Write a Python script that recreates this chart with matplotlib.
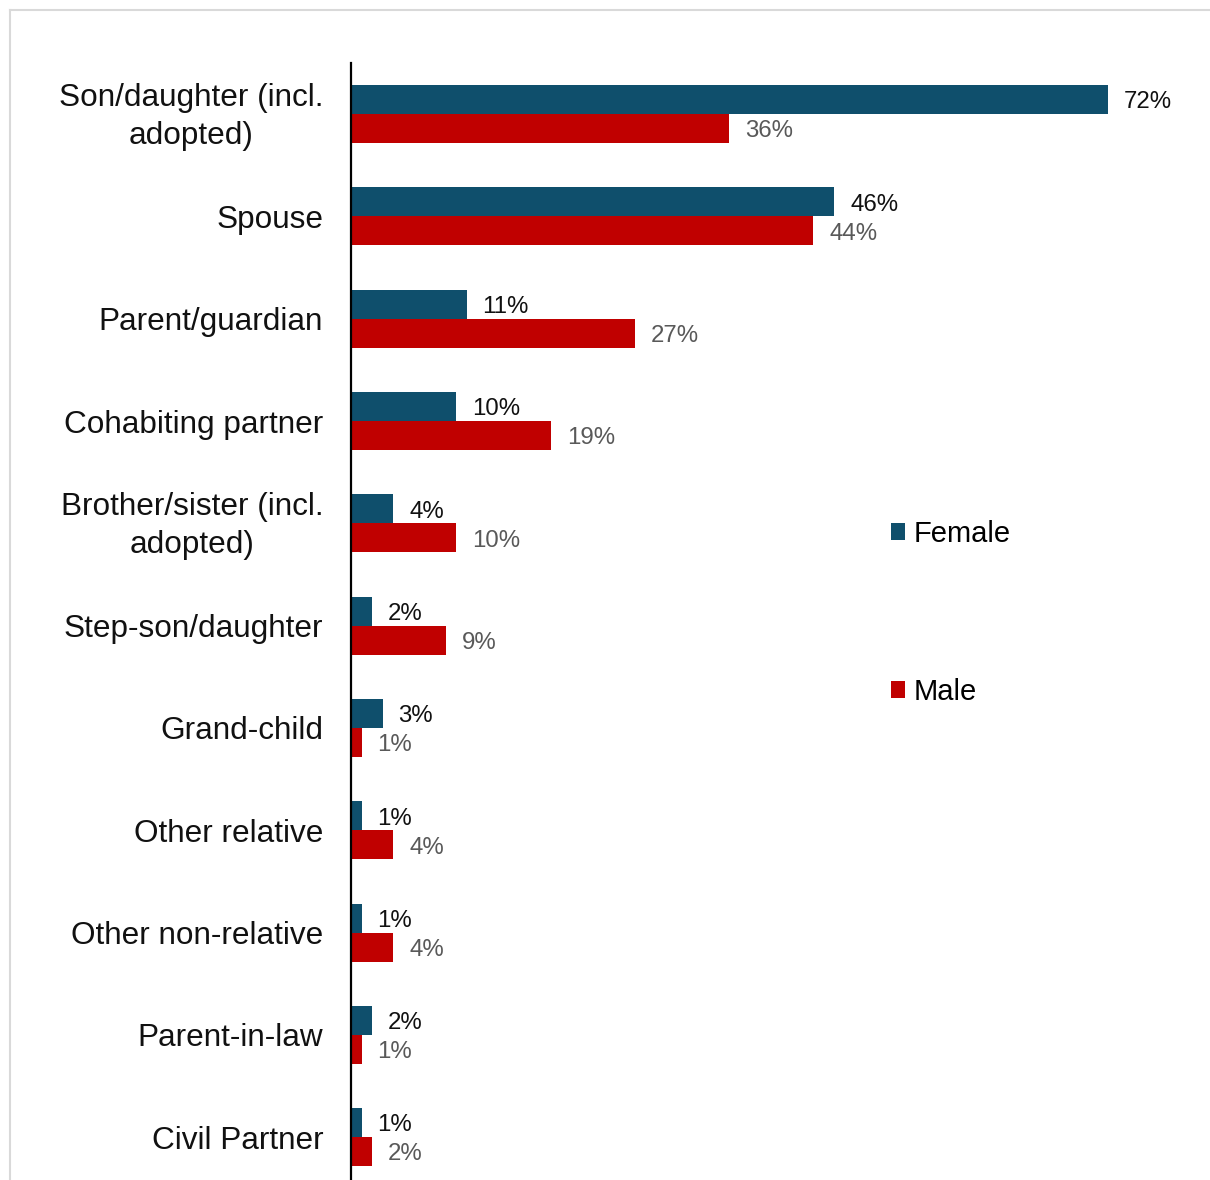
import matplotlib.pyplot as plt
import numpy as np
from matplotlib.lines import Line2D
from matplotlib.transforms import ScaledTranslation

plt.rcParams['font.family'] = ['Liberation Sans', 'DejaVu Sans']

# relationship of the person cared for, share of carers by sex
categories = ['Son/daughter (incl.\nadopted)', 'Spouse', 'Parent/guardian', 'Cohabiting partner',
              'Brother/sister (incl.\nadopted)', 'Step-son/daughter', 'Grand-child', 'Other relative',
              'Other non-relative', 'Parent-in-law', 'Civil Partner']
female = [72, 46, 11, 10, 4, 2, 3, 1, 1, 2, 1]
male = [36, 44, 27, 19, 10, 9, 1, 4, 4, 1, 2]

female_color = '#0F4F6C'
male_color = '#C00000'

W, H = 1210, 1180
fig = plt.figure(figsize=(W / 100, H / 100), dpi=100)

# axes placed in pixel terms: spine at x=351, top at y=63
px_per_unit = 102.3
ax_left, ax_top = 351, 63
ax_h = len(categories) * px_per_unit
ax = fig.add_axes([ax_left / W, (H - ax_top - ax_h) / H, (W - ax_left) / W, ax_h / H])

y = np.arange(len(categories))
h = 0.283
bf = ax.barh(y - h / 2, female, height=h, color=female_color, label='Female')
bm = ax.barh(y + h / 2, male, height=h, color=male_color, label='Male')

for bars, vals, col in [(bf, female, '#111111'), (bm, male, '#595959')]:
    for bar, v in zip(bars, vals):
        ax.annotate(f'{v}%', (bar.get_width(), bar.get_y() + bar.get_height() / 2),
                    xytext=(11.5, -2), textcoords='offset points', va='center', ha='left',
                    fontsize=17.3, color=col)

ax.set_xlim(0, (W - ax_left) / 10.51)
ax.set_ylim(len(categories) - 0.5, -0.5)
ax.set_yticks(y)
ax.set_yticklabels(categories, fontsize=22.7, color='#111111')
ax.tick_params(axis='y', length=0, pad=20)
# two-line labels sit a little higher than the group centre
nudge = ScaledTranslation(0, 5 / 100, fig.dpi_scale_trans)
for lbl in ax.get_yticklabels():
    lbl.set_multialignment('center')
    lbl.set_linespacing(1.36)
    if '\n' in lbl.get_text():
        lbl.set_transform(lbl.get_transform() + nudge)
ax.set_xticks([])
for s in ['top', 'right', 'bottom']:
    ax.spines[s].set_visible(False)
ax.spines['left'].set_linewidth(1.6)
ax.spines['left'].set_color('black')

fig.legend(handles=[bf, bm], loc='center left', bbox_to_anchor=(876 / W, 1 - 613 / H),
           frameon=False, fontsize=21, handlelength=0.5, handleheight=0.5,
           handletextpad=0.3, labelspacing=4.45, borderpad=0)

# thin grey frame around the chart area
fig.add_artist(Line2D([10 / W, 1], [1 - 10 / H, 1 - 10 / H], transform=fig.transFigure,
                      color='#D9D9D9', lw=1.5))
fig.add_artist(Line2D([10 / W, 10 / W], [0, 1 - 10 / H], transform=fig.transFigure,
                      color='#D9D9D9', lw=1.5))

fig.savefig('out.png', dpi=100)
